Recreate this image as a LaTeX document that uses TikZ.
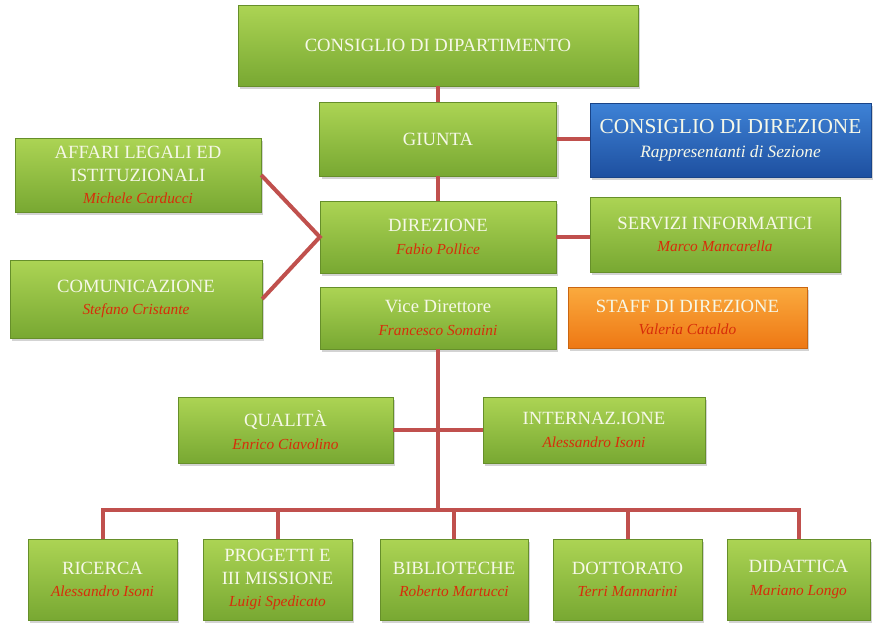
\documentclass[tikz,border=0pt]{standalone}
\usepackage{fontspec}
\setmainfont{Liberation Serif}
\usetikzlibrary{shadows}
\definecolor{gtop}{RGB}{172,212,84}
\definecolor{gbot}{RGB}{120,168,50}
\definecolor{btop}{RGB}{62,130,214}
\definecolor{bbot}{RGB}{30,80,160}
\definecolor{otop}{RGB}{250,170,62}
\definecolor{obot}{RGB}{238,120,20}
\definecolor{linkred}{RGB}{192,80,77}
\definecolor{namered}{RGB}{215,45,10}
\definecolor{titlecol}{RGB}{246,248,232}
\newcommand{\who}[1]{{\fontsize{11.5}{17}\selectfont\itshape\color{namered}#1}}

\begin{document}
\begin{tikzpicture}[x=0.75pt,y=-0.75pt,
  box/.style={inner sep=2pt,align=center,text=titlecol,font=\fontsize{14}{17}\selectfont,
    top color=gtop,bottom color=gbot,draw=gbot!85!black,line width=0.3pt,
    drop shadow={shadow xshift=1.5pt,shadow yshift=-2pt,opacity=0.35}},
  bluebox/.style={box,top color=btop,bottom color=bbot,draw=bbot!85!black},
  orabox/.style={box,top color=otop,bottom color=obot,draw=obot!85!black},
  link/.style={draw=linkred,line width=3pt}]
\useasboundingbox (0,0) rectangle (873,629);
% top of the chart
\node[box,minimum width=300pt,minimum height=60.75pt] (cdd) at (438,45.5) {CONSIGLIO DI DIPARTIMENTO};
\node[box,minimum width=177.75pt,minimum height=55.5pt] (giunta) at (438,139) {GIUNTA};
\node[bluebox,minimum width=210.75pt,minimum height=55.5pt] (cdir) at (730.5,140)
  {{\fontsize{16}{19}\selectfont CONSIGLIO DI DIREZIONE}\\[1pt]{\fontsize{13}{17}\selectfont\itshape Rappresentanti di Sezione}};
\node[box,minimum width=184.5pt,minimum height=55.5pt] (affari) at (138,175) {AFFARI LEGALI ED\\ISTITUZIONALI\\\who{Michele Carducci}};
\node[box,minimum width=189pt,minimum height=58.5pt] (comun) at (136,299) {COMUNICAZIONE\\\who{Stefano Cristante}};
\node[box,minimum width=177pt,minimum height=54pt] (direz) at (438,237) {DIREZIONE\\\who{Fabio Pollice}};
\node[box,minimum width=187.5pt,minimum height=56.25pt] (servizi) at (715,234.5) {SERVIZI INFORMATICI\\\who{Marco Mancarella}};
\node[box,minimum width=177pt,minimum height=46.5pt] (vice) at (438,318) {Vice Direttore\\\who{Francesco Somaini}};
\node[orabox,minimum width=179.25pt,minimum height=45.75pt] (staff) at (687.5,317.5) {STAFF DI DIREZIONE\\\who{Valeria Cataldo}};
\node[box,minimum width=161.25pt,minimum height=49.5pt] (qual) at (285.5,430) {QUALITÀ\\\who{Enrico Ciavolino}};
\node[box,minimum width=166.5pt,minimum height=49.5pt] (intern) at (594,430) {INTERNAZ.IONE\\\who{Alessandro Isoni}};
% bottom row
\node[box,minimum width=111.75pt,minimum height=60.75pt] (ricerca) at (102.5,579.5) {RICERCA\\\who{Alessandro Isoni}};
\node[box,minimum width=111.75pt,minimum height=60.75pt] (progetti) at (277.5,579.5) {PROGETTI E\\III MISSIONE\\\who{Luigi Spedicato}};
\node[box,minimum width=111pt,minimum height=60.75pt] (biblio) at (454,579.5) {BIBLIOTECHE\\\who{Roberto Martucci}};
\node[box,minimum width=111.75pt,minimum height=60.75pt] (dottorato) at (627.5,579.5) {DOTTORATO\\\who{Terri Mannarini}};
\node[box,minimum width=107.25pt,minimum height=60.75pt] (didattica) at (798.5,579.5) {DIDATTICA\\\who{Mariano Longo}};
\coordinate (bus) at (438,510);
% connectors
\draw[link] (cdd) -- (giunta);
\draw[link] (giunta) -- (direz);
\draw[link] (giunta.east) -- (giunta.east -| cdir.west);
\draw[link] (direz.east) -- (direz.east -| servizi.west);
\draw[link] (affari.east) -- (direz.west) -- (comun.east);
\draw[link] (vice) -- (bus);
\draw[link] (qual) -- (intern);
\draw[link] (ricerca.north) -- (ricerca.north |- bus) -- (didattica.north |- bus) -- (didattica.north);
\foreach \n in {progetti,biblio,dottorato}
  \draw[link] (\n.north) -- (\n.north |- bus);
\end{tikzpicture}
\end{document}
